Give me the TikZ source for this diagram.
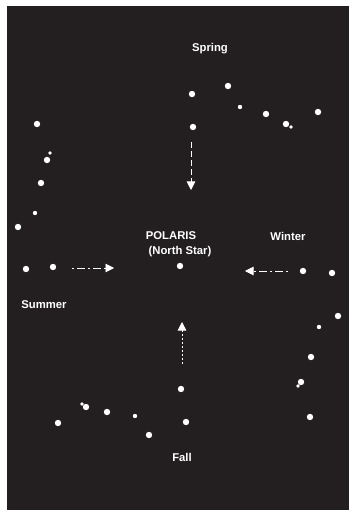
\documentclass[tikz,border=0pt]{standalone}
\usepackage{fontspec}
\setmainfont{Liberation Sans}
\usetikzlibrary{arrows.meta}
\definecolor{sky}{RGB}{35,31,32}
\begin{document}
\begin{tikzpicture}[x=1pt,y=-1pt,
  star/.style={circle,fill=white,inner sep=0pt,minimum size=6.4pt},
  smallstar/.style={circle,fill=white,inner sep=0pt,minimum size=4.4pt},
  tinystar/.style={circle,fill=white,inner sep=0pt,minimum size=3.6pt},
  lbl/.style={text=white,font=\bfseries\fontsize{11.3}{13}\selectfont,inner sep=0pt},
  pointer/.style={white,line width=0.7pt,dash pattern=on 2pt off 3pt on 8pt off 3pt,
    -{Triangle[length=8.5pt,width=8.5pt]}}]
\useasboundingbox (0,0) rectangle (349,510);
\fill[white] (0,0) rectangle (349,510);
\fill[sky] (7,6) rectangle (349,510);
% Spring group
\node[star] (s1) at (192,94) {};
\node[star] (s2) at (228,86) {};
\node[smallstar] (s3) at (240,107) {};
\node[star] (s4) at (266,114) {};
\node[star] (s5) at (286,124) {};
\node[tinystar] (s5b) at (291,127) {};
\node[star] (s6) at (318,112) {};
\node[star] (s7) at (193,127) {};
% left column
\node[star] (l1) at (37,124) {};
\node[tinystar] (l2) at (50,153) {};
\node[star] (l3) at (47,160) {};
\node[star] (l4) at (41,183) {};
\node[smallstar] (l5) at (35,213) {};
\node[star] (l6) at (18,227) {};
% Summer
\node[star] (m1) at (26,269) {};
\node[star] (m2) at (53,267) {};
% Polaris
\node[star] (p) at (180,266) {};
% Winter / right column
\node[star] (w1) at (303,271) {};
\node[star] (w2) at (332,273) {};
\node[star] (r1) at (338,316) {};
\node[smallstar] (r2) at (319,327) {};
\node[star] (r3) at (311,357) {};
\node[star] (r4) at (301,382) {};
\node[tinystar] (r4b) at (298,386) {};
\node[star] (r5) at (310,417) {};
% Fall group
\node[star] (f1) at (181,389) {};
\node[star] (f2) at (186,422) {};
\node[star] (f3) at (149,435) {};
\node[smallstar] (f4) at (135,416) {};
\node[star] (f5) at (107,412) {};
\node[star] (f6) at (86,407) {};
\node[tinystar] (f6b) at (82,404) {};
\node[star] (f7) at (58,423) {};
% labels
\node[lbl] (tspring) at (210,49) {Spring};
\node[lbl] (tpol) at (171,236) {POLARIS};
\node[lbl] (tnorth) at (180,252) {(North Star)};
\node[lbl] (twinter) at (288,236) {Winter};
\node[lbl] (tsummer) at (44,305) {Summer};
\node[lbl] (tfall) at (182,457) {Fall};
% arrows
\coordinate (a1s) at (191,142);
\coordinate (a1e) at (191,190);
\coordinate (a2s) at (72,268);
\coordinate (a2e) at (114,268);
\coordinate (a3s) at (288,271);
\coordinate (a3e) at (245,271);
\coordinate (a4s) at (182,364);
\coordinate (a4e) at (182,322);
\draw[pointer,dash pattern=on 6pt off 3pt] (a1s) -- (a1e);
\draw[pointer] (a2s) -- (a2e);
\draw[pointer] (a3s) -- (a3e);
\draw[pointer,dash pattern=on 2pt off 2pt] (a4s) -- (a4e);
\end{tikzpicture}
\end{document}
